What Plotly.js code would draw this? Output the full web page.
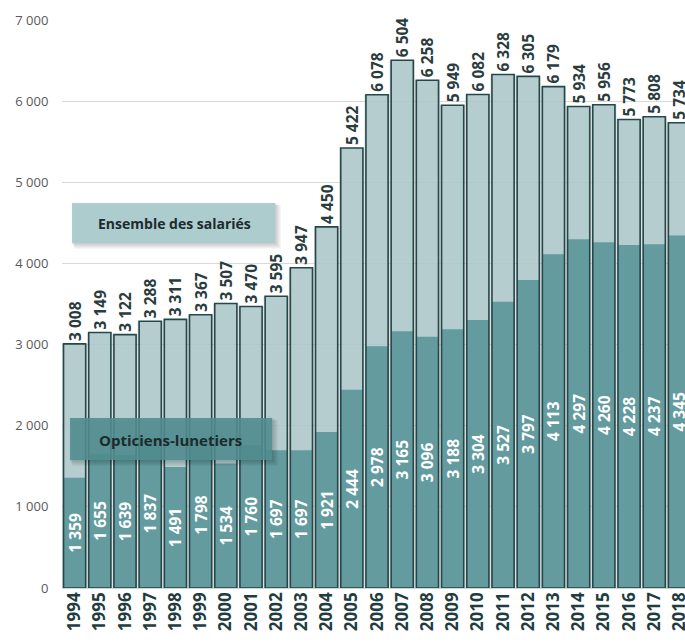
<!DOCTYPE html>
<html>
<head>
<meta charset="utf-8">
<script src="https://cdn.plot.ly/plotly-3.0.1.min.js"></script>
<style>
  html, body { margin: 0; padding: 0; background: #ffffff; }
  #chart { width: 685px; height: 642px; }
</style>
</head>
<body>
<div id="chart"></div>
<script>
// Effectifs salariés : ensemble et opticiens-lunetiers, 1994-2018
const years = ['1994','1995','1996','1997','1998','1999','2000','2001','2002','2003','2004','2005',
               '2006','2007','2008','2009','2010','2011','2012','2013','2014','2015','2016','2017','2018'];
const ensembleSalaries = [3008, 3149, 3122, 3288, 3311, 3367, 3507, 3470, 3595, 3947, 4450, 5422,
                          6078, 6504, 6258, 5949, 6082, 6328, 6305, 6179, 5934, 5956, 5773, 5808, 5734];
const opticiensLunetiers = [1359, 1655, 1639, 1837, 1491, 1798, 1534, 1760, 1697, 1697, 1921, 2444,
                            2978, 3165, 3096, 3188, 3304, 3527, 3797, 4113, 4297, 4260, 4228, 4237, 4345];
const seriesNames = ['Ensemble des salariés', 'Opticiens-lunetiers'];
const yTicks = [0, 1000, 2000, 3000, 4000, 5000, 6000, 7000];

// French-style thousands separator (space)
const fmt = v => String(v).replace(/\B(?=(\d{3})+(?!\d))/g, ' ');

const W = 685, H = 642;
const M = { l: 62, r: 0, t: 20, b: 54 };
const plotW = W - M.l - M.r, plotH = H - M.t - M.b;
// pixel -> paper helpers for the label boxes
const px = x => (x - M.l) / plotW;
const py = y => (H - M.b - y) / plotH;

const cDark = '#24474a';
const cLight = 'rgba(172,201,203,0.82)';
const cTeal = 'rgba(92,151,155,0.92)';

const traces = [
  // soft shadow between the columns
  { type: 'bar', x: years, y: ensembleSalaries, width: 1.0,
    marker: { color: 'rgba(170,170,170,0.40)', line: { width: 0 } },
    hoverinfo: 'skip', showlegend: false },
  // total
  { type: 'bar', x: years, y: ensembleSalaries, width: 0.88, name: seriesNames[0],
    marker: { color: cLight, line: { width: 0 } }, showlegend: false },
  // opticiens-lunetiers
  { type: 'bar', x: years, y: opticiensLunetiers, width: 0.88, name: seriesNames[1],
    marker: { color: cTeal, line: { width: 0 } },
    text: opticiensLunetiers.map(fmt), textposition: 'inside', insidetextanchor: 'middle',
    textangle: -90, constraintext: 'none',
    textfont: { family: 'Open Sans', size: 15.5, color: '#ffffff', weight: 'bold' },
    showlegend: false },
  // column outlines + total labels
  { type: 'bar', x: years, y: ensembleSalaries, width: 0.88,
    marker: { color: 'rgba(0,0,0,0)', line: { width: 1.6, color: cDark } },
    text: ensembleSalaries.map(fmt), textposition: 'outside', textangle: -90,
    constraintext: 'none', cliponaxis: false,
    textfont: { family: 'Open Sans', size: 15.5, color: '#2a3c3e', weight: 'bold' },
    hoverinfo: 'skip', showlegend: false }
];

// label box with a blurred drop shadow built from stacked translucent rectangles
function labelBox(x0, y0, x1, y1, fill) {
  const out = [];
  for (let k = 6; k >= 1; k--) {
    out.push({ type: 'rect', xref: 'paper', yref: 'paper', layer: 'above',
      x0: px(x0 - 1 + k * 0.6), x1: px(x1 + k), y0: py(y1 + k), y1: py(y0 - 1 + k * 0.6),
      fillcolor: 'rgba(0,0,0,0.035)', line: { width: 0 } });
  }
  out.push({ type: 'rect', xref: 'paper', yref: 'paper', layer: 'above',
    x0: px(x0), x1: px(x1), y0: py(y1), y1: py(y0),
    fillcolor: fill, line: { width: 0 } });
  return out;
}

const layout = {
  width: W, height: H,
  margin: M,
  paper_bgcolor: '#ffffff', plot_bgcolor: '#ffffff',
  font: { family: 'Open Sans', size: 13, color: '#595959' },
  separators: ', ',
  barmode: 'overlay',
  showlegend: false,
  xaxis: {
    type: 'category', range: [-0.5, 24.22],
    showgrid: false, zeroline: false, showline: false,
    tickangle: -90, ticks: '', ticklen: 0,
    tickfont: { family: 'Open Sans', size: 17, color: '#1f3d40', weight: 'bold' }
  },
  yaxis: {
    range: [0, 7000], tickvals: yTicks, separatethousands: true,
    showgrid: true, gridcolor: '#d9d9d9', gridwidth: 1,
    zeroline: true, zerolinecolor: '#d0d0d0', zerolinewidth: 1,
    showline: false, ticks: 'outside', ticklen: 10, tickcolor: 'rgba(0,0,0,0)',
    tickfont: { family: 'Open Sans', size: 13, color: '#595959' }
  },
  shapes: [
    ...labelBox(72, 203, 275, 243, 'rgba(172,204,205,0.96)'),
    ...labelBox(70, 418, 272, 460, 'rgba(82,142,146,0.88)')
  ],
  annotations: [
    { xref: 'paper', yref: 'paper', x: px(174), y: py(224), showarrow: false,
      text: seriesNames[0], xanchor: 'center', yanchor: 'middle',
      font: { family: 'Open Sans', size: 14, color: '#1b2b2d', weight: 'bold' } },
    { xref: 'paper', yref: 'paper', x: px(170), y: py(440), showarrow: false,
      text: seriesNames[1], xanchor: 'center', yanchor: 'middle',
      font: { family: 'Open Sans', size: 15, color: '#1b2b2d', weight: 'bold' } }
  ]
};

Plotly.newPlot('chart', traces, layout, { displayModeBar: false, staticPlot: true });
</script>
</body>
</html>
